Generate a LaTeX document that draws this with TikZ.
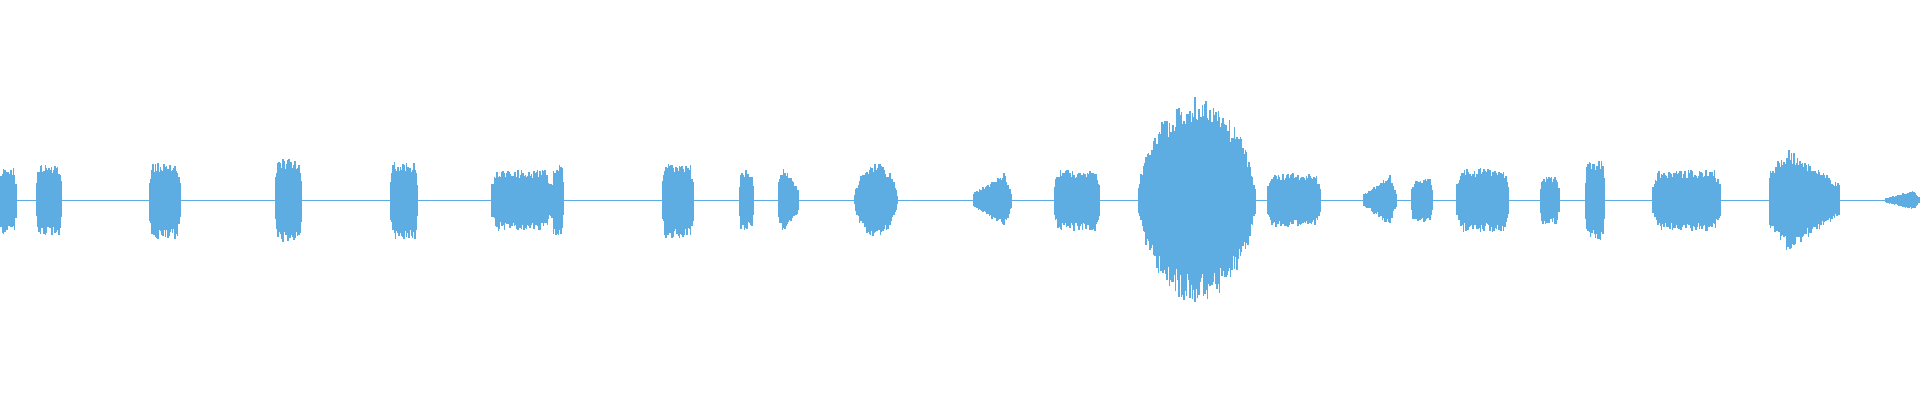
\documentclass[tikz,border=0pt]{standalone}
\definecolor{wave}{RGB}{93,173,226}
\tikzset{
  sample/.style={draw=wave,line width=0.45pt},
  baseline/.style={draw=wave,line width=0.3pt}
}
% \wburst{x0}{x1}{amp}{type}: 0 flat, 1 round, 2 attack/decay, 3 rising
\newcommand{\wburst}[4]{%
  \foreach \x in {#1,...,#2}{%
    \pgfmathsetmacro{\t}{(\x-#1)/(#2-#1)}%
    \pgfmathsetmacro{\env}{#4==0 ? min(1,0.55+5*\t,0.55+5*(1-\t)) :
      (#4==1 ? sqrt(max(sin(180*\t),0.02)) :
      (#4==2 ? (\t<0.25 ? 0.6+1.6*\t : 1-0.9*(\t-0.25)) :
      (\t<0.8 ? 0.25+0.95*\t : 1-3.5*(\t-0.8))))}%
    \pgfmathsetmacro{\hup}{#3*\env*(0.72+0.28*rnd)}%
    \pgfmathsetmacro{\hdn}{#3*\env*(0.72+0.28*rnd)}%
    \draw[sample] (\x,-\hdn) -- (\x,\hup);
  }%
}
\begin{document}
\begin{tikzpicture}[x=0.012245cm,y=0.012245cm]
  \pgfmathsetseed{7}
  \useasboundingbox (0,-163.5) rectangle (1568,163.5);
  \draw[baseline] (0,0) -- (1568,0);
  \wburst{0}{13}{28}{0}
  \wburst{30}{50}{29}{0}
  \wburst{122}{147}{32}{0}
  \wburst{225}{246}{35}{0}
  \wburst{319}{341}{32}{0}
  \wburst{402}{450}{25}{0}
  \wburst{451}{460}{29}{0}
  \wburst{541}{566}{31}{0}
  \wburst{604}{615}{25}{0}
  \wburst{636}{652}{30}{2}
  \wburst{698}{733}{31}{1}
  \wburst{795}{826}{23}{3}
  \wburst{861}{898}{25}{0}
  \wburst{930}{1025}{84}{1}
  \wburst{1035}{1078}{22}{0}
  \wburst{1114}{1140}{21}{3}
  \wburst{1153}{1170}{18}{0}
  \wburst{1190}{1232}{26}{0}
  \wburst{1258}{1273}{20}{0}
  \wburst{1295}{1310}{33}{0}
  \wburst{1350}{1405}{25}{0}
  \wburst{1445}{1502}{42}{2}
  \wburst{1540}{1568}{8}{3}
\end{tikzpicture}
\end{document}
